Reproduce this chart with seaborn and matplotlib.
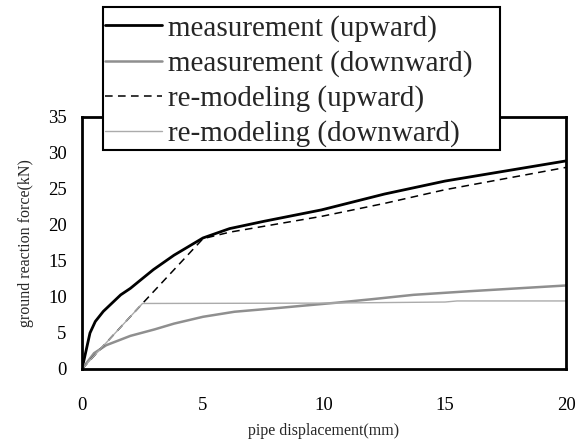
import matplotlib
matplotlib.use("Agg")
import matplotlib.pyplot as plt
from matplotlib.patches import Rectangle
import seaborn as sns
import pandas as pd

sns.set_theme(style="white")
plt.rcParams['font.family'] = ['Liberation Serif', 'DejaVu Serif']

# measurement (upward)
mu_x = [0, 0.33, 0.55, 0.88, 1.6, 2.0, 2.4, 2.95, 3.8, 5.0, 6.1, 7.5, 9.9, 12.5, 15.0, 20.0]
mu_y = [0, 5.0, 6.6, 8.0, 10.3, 11.2, 12.3, 13.8, 15.8, 18.2, 19.5, 20.5, 22.1, 24.3, 26.1, 28.9]
# measurement (downward)
md_x = [0, 0.5, 1.0, 2.0, 3.0, 3.8, 5.0, 6.3, 8.2, 9.0, 10.5, 12.0, 13.7, 16.0, 20.0]
md_y = [0, 2.2, 3.3, 4.6, 5.5, 6.3, 7.25, 7.95, 8.5, 8.75, 9.2, 9.7, 10.3, 10.8, 11.6]
# re-modeling (upward)
ru_x = [0, 2.5, 5.0, 6.1, 9.9, 12.5, 15.0, 20.0]
ru_y = [0, 9.1, 18.1, 19.0, 21.2, 23.0, 24.9, 28.0]
# re-modeling (downward)
rd_x = [0, 2.5, 10.0, 15.0, 15.5, 20.0]
rd_y = [0, 9.1, 9.15, 9.3, 9.45, 9.45]

x_ticks = [0, 5, 10, 15, 20]
y_ticks = [0, 5, 10, 15, 20, 25, 30, 35]

W, H = 584, 445
fig = plt.figure(figsize=(W / 100, H / 100), dpi=100)
ax = fig.add_axes([0.1404, 0.1708, 0.8288, 0.5663])

series = [
    ("measurement (upward)", mu_x, mu_y, dict(color="black", lw=2.0, ls="-")),
    ("measurement (downward)", md_x, md_y, dict(color="#8f8f8f", lw=1.8, ls="-")),
    ("re-modeling (upward)", ru_x, ru_y, dict(color="black", lw=1.1, ls=(0, (5, 3.5)))),
    ("re-modeling (downward)", rd_x, rd_y, dict(color="#ababab", lw=1.0, ls="-")),
]
for name, xs, ys, st in series:
    df = pd.DataFrame({"x": xs, "y": ys})
    sns.lineplot(data=df, x="x", y="y", ax=ax, label=name, color=st["color"],
                 linewidth=st["lw"], linestyle=st["ls"], estimator=None, sort=False)

ax.set_xlim(0, 20)
ax.set_ylim(0, 35)
ax.set_xticks(x_ticks)
ax.set_yticks(y_ticks)
ax.tick_params(axis="x", direction="in", length=5, width=1, pad=20, labelsize=13.5, colors="black")
ax.tick_params(axis="y", direction="in", length=5, width=1, pad=11, labelsize=13.5, colors="black")
ax.tick_params(axis="x", which="both", top=False)
ax.tick_params(axis="y", which="both", right=False)
for sp in ax.spines.values():
    sp.set_linewidth(2.0)
    sp.set_color("black")
ax.set_xlabel("pipe displacement(mm)", fontsize=11.5, labelpad=7)
ax.set_ylabel("ground reaction force(kN)", fontsize=11.5, labelpad=10)
ax.grid(False)

# legend frame box
frame = Rectangle((103 / W, 1 - 150 / H), 397 / W, 143 / H, transform=fig.transFigure,
                  facecolor="white", edgecolor="black", linewidth=1.5, zorder=5)
fig.patches.append(frame)

handles, labels = ax.get_legend_handles_labels()
ax.legend_.remove()
leg = fig.legend(handles, labels, loc="upper left", bbox_to_anchor=(105 / W, 1 - 15 / H),
                 frameon=False, fontsize=21, handlelength=1.95,
                 handletextpad=0.2, borderpad=0, labelspacing=0.28, borderaxespad=0)
leg.set_zorder(10)

fig.savefig("out.png", dpi=100)
